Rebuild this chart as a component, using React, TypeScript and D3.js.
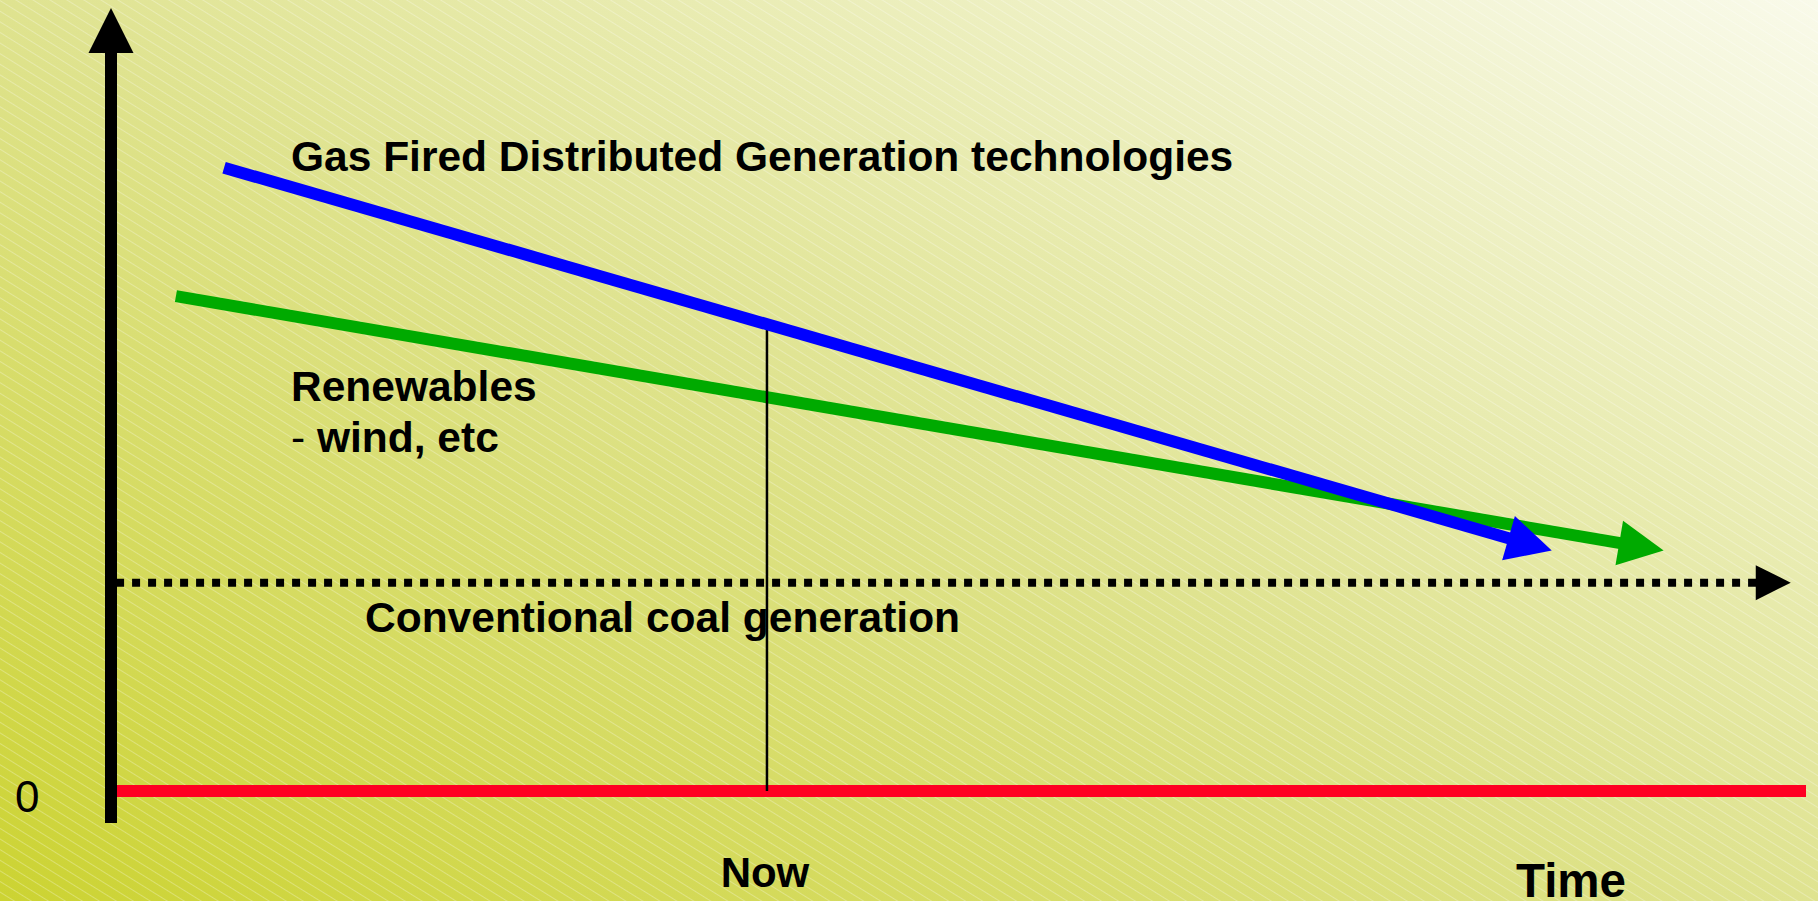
import React, { useRef, useEffect } from 'react';
import * as d3 from 'd3';

// conceptual cost-over-time chart, values in arbitrary units (0..100 on both axes)
const gasStart = [6.67, 79.6];
const gasEnd = [85.0, 30.7];
const renewStart = [3.83, 63.2];
const renewEnd = [91.6, 30.7];
const coalLevel = 26.6;
const coalRange = [0.3, 99.1];
const zeroRange = [0.35, 100];
const yAxisRange = [-4.1, 100];
const nowTime = 38.7;
const nowTop = 59.3;

const labels = {
    gas: 'Gas Fired Distributed Generation technologies',
    renew: 'Renewables',
    renewSub: 'wind, etc',
    coal: 'Conventional coal generation',
    now: 'Now',
    time: 'Time',
    zero: '0'
};

const W = 1818;
const H = 901;
const FONT = '"Liberation Sans", Arial, Helvetica, sans-serif';

const App = () => {
    const ref = useRef(null);

    useEffect(() => {
        const svg = d3.select(ref.current);
        svg.selectAll('*').remove();

        const x = d3.scaleLinear().domain([0, 100]).range([111, 1806]);
        const y = d3.scaleLinear().domain([0, 100]).range([791, 8]);

        const defs = svg.append('defs');
        const grad = defs.append('linearGradient')
            .attr('id', 'bg')
            .attr('x1', 0).attr('y1', 1)
            .attr('x2', 1).attr('y2', 0);
        grad.append('stop').attr('offset', 0).attr('stop-color', '#ccd332');
        grad.append('stop').attr('offset', 0.5).attr('stop-color', '#dfe390');
        grad.append('stop').attr('offset', 1).attr('stop-color', '#f9faea');

        // faint diagonal hatching over the background
        const pat = defs.append('pattern')
            .attr('id', 'hatch')
            .attr('patternUnits', 'userSpaceOnUse')
            .attr('width', 40).attr('height', 9)
            .attr('patternTransform', 'rotate(32)');
        pat.append('line')
            .attr('x1', 0).attr('x2', 40)
            .attr('y1', 0.5).attr('y2', 0.5)
            .attr('stroke', '#ffffff')
            .attr('stroke-opacity', 0.28)
            .attr('stroke-width', 1);

        svg.append('rect').attr('width', W).attr('height', H).attr('fill', 'url(#bg)');
        svg.append('rect').attr('width', W).attr('height', H).attr('fill', 'url(#hatch)');

        // line + triangular arrowhead pointing at the end point
        const arrow = (p0, p1, color, width, headLen, headW, dash) => {
            const ax = x(p0[0]), ay = y(p0[1]);
            const bx = x(p1[0]), by = y(p1[1]);
            const len = Math.hypot(bx - ax, by - ay);
            const ux = (bx - ax) / len, uy = (by - ay) / len;
            const baseX = bx - ux * headLen, baseY = by - uy * headLen;
            const g = svg.append('g');
            const ln = g.append('line')
                .attr('x1', ax).attr('y1', ay)
                .attr('x2', baseX + ux * 1).attr('y2', baseY + uy * 1)
                .attr('stroke', color)
                .attr('stroke-width', width);
            if (dash) ln.attr('stroke-dasharray', dash);
            g.append('path')
                .attr('d', d3.line()([
                    [bx, by],
                    [baseX - uy * headW / 2, baseY + ux * headW / 2],
                    [baseX + uy * headW / 2, baseY - ux * headW / 2]
                ]) + 'Z')
                .attr('fill', color);
        };

        // red zero line
        svg.append('line')
            .attr('x1', x(zeroRange[0])).attr('x2', x(zeroRange[1]))
            .attr('y1', y(0)).attr('y2', y(0))
            .attr('stroke', '#ff0022')
            .attr('stroke-width', 12);

        // conventional coal, dotted
        arrow([coalRange[0], coalLevel], [coalRange[1], coalLevel], '#000', 8, 35, 35, '8 8');

        // renewables then gas DG
        arrow(renewStart, renewEnd, '#00aa00', 12, 45, 45);

        // now marker
        svg.append('line')
            .attr('x1', x(nowTime)).attr('x2', x(nowTime))
            .attr('y1', y(nowTop)).attr('y2', y(0))
            .attr('stroke', '#000')
            .attr('stroke-width', 2.5);

        arrow(gasStart, gasEnd, '#0000ff', 12, 45, 46);

        // y axis
        arrow([0, yAxisRange[0]], [0, yAxisRange[1]], '#000', 12, 45, 45);

        const txt = (tx, ty, s, size, weight, anchor) => svg.append('text')
            .attr('x', tx).attr('y', ty)
            .attr('font-family', FONT)
            .attr('font-size', size)
            .attr('font-weight', weight)
            .attr('text-anchor', anchor || 'start')
            .attr('fill', '#000')
            .text(s);

        txt(291, 171, labels.gas, 42.5, 'bold');
        txt(291, 401, labels.renew, 42.5, 'bold');
        const sub = svg.append('text')
            .attr('x', 291).attr('y', 452)
            .attr('font-family', FONT)
            .attr('font-size', 42.5)
            .attr('fill', '#000');
        sub.append('tspan').attr('font-weight', 'normal').text('- ');
        sub.append('tspan').attr('font-weight', 'bold').text(labels.renewSub);
        txt(365, 632, labels.coal, 42.5, 'bold');
        txt(x(nowTime) - 2, 887, labels.now, 42, 'bold', 'middle');
        txt(1516, 897, labels.time, 47.5, 'bold');
        txt(15, 812, labels.zero, 44, 'normal');
    }, []);

    return (
        <svg
            ref={ref}
            width={W}
            height={H}
            style={{ position: 'absolute', left: 0, top: 0, display: 'block' }}
        ></svg>
    );
};

export default App;
